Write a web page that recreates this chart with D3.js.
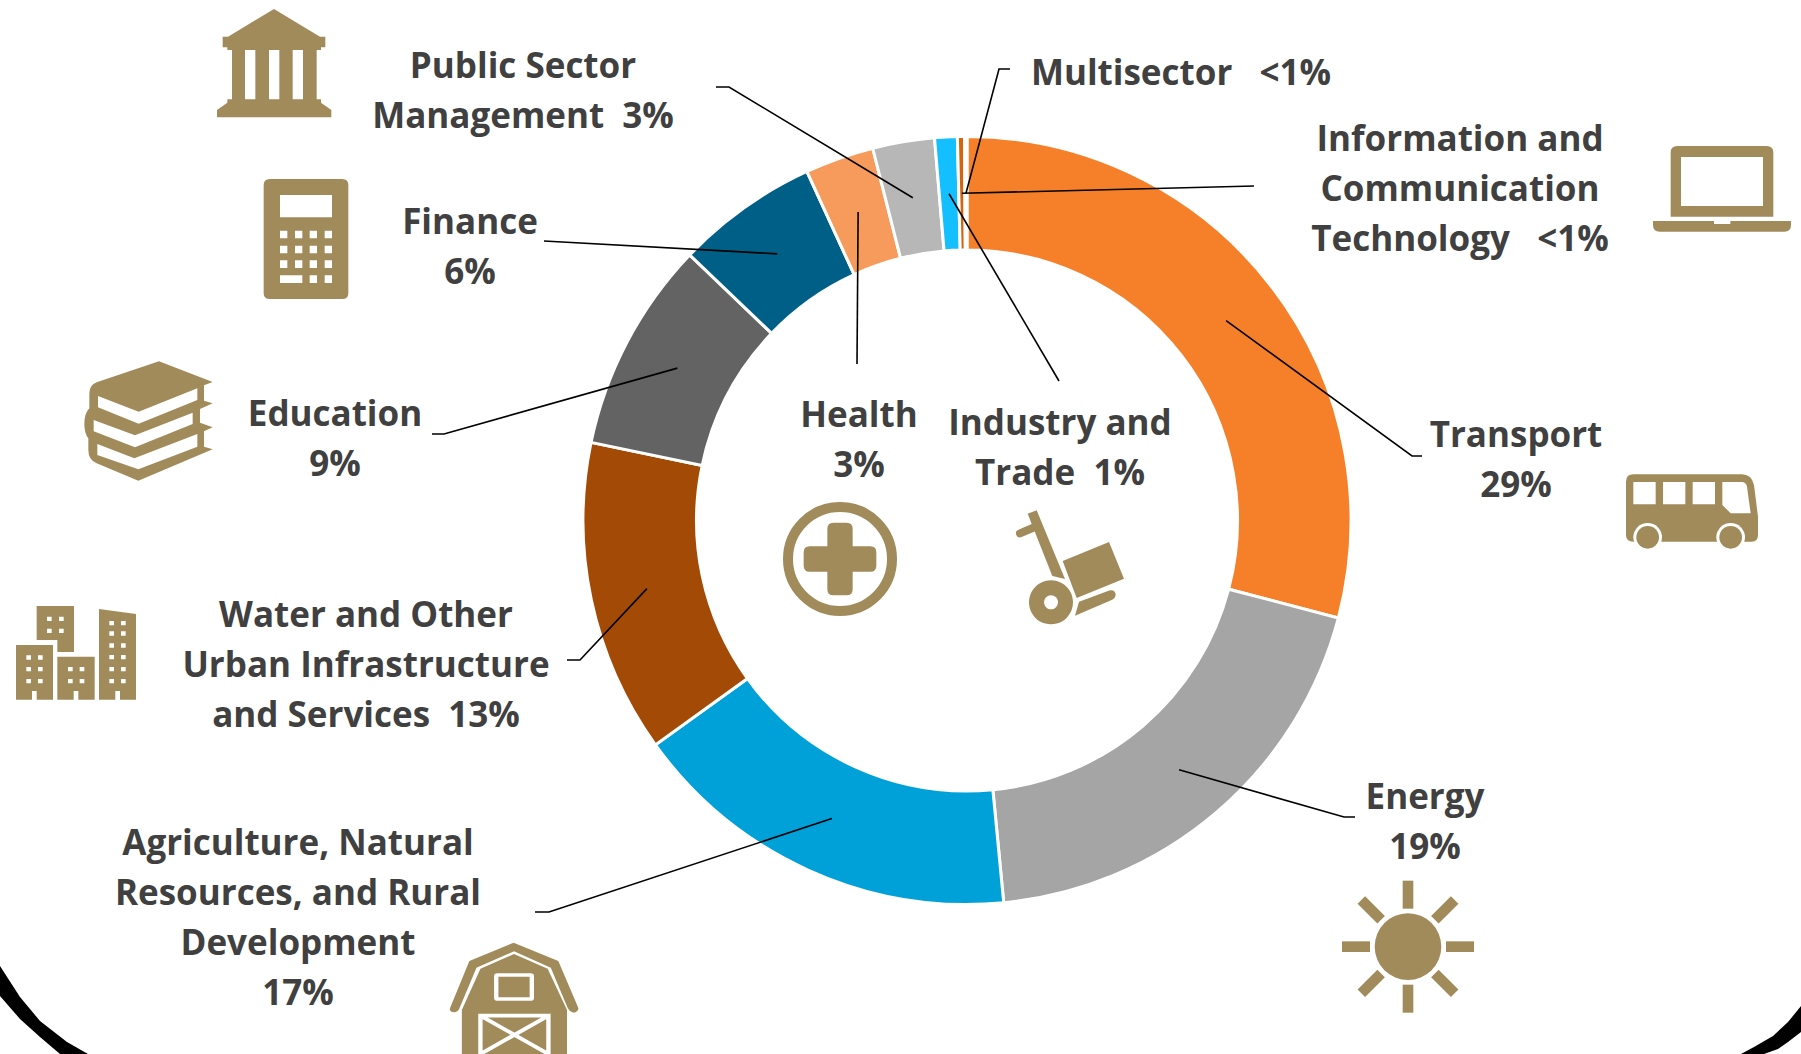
<!DOCTYPE html>
<html>
<head>
<meta charset="utf-8">
<script src="https://cdn.jsdelivr.net/npm/d3@7"></script>
<style>
  html, body { margin: 0; padding: 0; background: #fff; }
  svg { display: block; }
  text { font-family: "Open Sans", "Noto Sans", sans-serif; font-weight: 700; fill: #404040; }
</style>
</head>
<body>
<div id="chart"></div>
<script>
// data
const sectors = ["Transport", "Energy", "Agriculture", "Water", "Education", "Finance", "Health", "Public", "Industry", "ICT", "Multisector"];
const shares = [29.1, 19.4, 16.6, 13.2, 8.9, 6.0, 2.9, 2.6, 0.95, 0.3, 0.1];
const sliceColors = ["#F6802A", "#A5A5A5", "#00A0D8", "#A34A07", "#636363", "#005F86", "#F69B5B", "#B7B7B7", "#14BFFF", "#D4650C", "#F6802A"];
const labelLines = [
  ["Transport", "29%"],
  ["Energy", "19%"],
  ["Agriculture, Natural", "Resources, and Rural", "Development", "17%"],
  ["Water and Other", "Urban Infrastructure", "and Services  13%"],
  ["Education", "9%"],
  ["Finance", "6%"],
  ["Health", "3%"],
  ["Public Sector", "Management  3%"],
  ["Industry and", "Trade  1%"],
  ["Information and", "Communication", "Technology   <1%"],
  ["Multisector   <1%"]
];

// layout, per sector: label centre x, first baseline, leader points after the slice centroid
const labelX = [1516, 1425, 298, 366, 335, 470, 859, 523, 1060, 1460, 1181];
const labelY = [447, 809, 855, 627, 426, 234, 427, 78, 435, 151, 85];
const leaders = [
  [[1412, 456], [1422, 456]],
  [[1344, 817], [1355, 817]],
  [[549, 912], [535, 912]],
  [[580, 660], [567, 660]],
  [[444, 434], [432, 434]],
  [[544, 241]],
  [[857, 364]],
  [[729, 87], [716, 87]],
  [[1059, 381]],
  [[1254, 186]],
  [[999, 69], [1010, 69]]
];
// black frame corners, traced edge points
const cornerLeft = [[0, 966], [20, 997], [40, 1021], [67, 1042], [88, 1054], [60, 1054], [40, 1037], [20, 1019], [0, 996]];
const cornerRight = [[1801, 1006], [1788, 1022], [1773, 1036], [1754, 1047], [1741, 1054], [1764, 1054], [1778, 1049], [1788, 1042], [1801, 1032]];

const width = 1801, height = 1054;
const cx = 967, cy = 520.5, outerR = 384, innerR = 270.5;
const lineGap = 50;
const gold = "#A18B5B";

const svg = d3.select("#chart").append("svg")
  .attr("width", width)
  .attr("height", height)
  .style("background", "#fff");

svg.selectAll(".corner")
  .data([cornerLeft, cornerRight])
  .enter()
  .append("path")
  .attr("class", "corner")
  .attr("fill", "#000")
  .attr("d", d => d3.line()(d) + "Z");

// donut
const pie = d3.pie().sort(null).value(d => d);
const arc = d3.arc().innerRadius(innerR).outerRadius(outerR);
const arcs = pie(shares);
const ring = svg.append("g").attr("transform", `translate(${cx},${cy})`);

ring.selectAll("path")
  .data(arcs)
  .enter()
  .append("path")
  .attr("d", arc)
  .attr("fill", (d, i) => sliceColors[i])
  .attr("stroke", "#fff")
  .attr("stroke-width", 3);

// leader lines start from the slice centroid
const leaderLine = d3.line();
svg.selectAll(".leader")
  .data(arcs)
  .enter()
  .append("path")
  .attr("class", "leader")
  .attr("fill", "none")
  .attr("stroke", "#000")
  .attr("stroke-width", 1.6)
  .attr("d", (d, i) => {
    const c = arc.centroid(d);
    return leaderLine([[cx + c[0], cy + c[1]]].concat(leaders[i]));
  });

// labels
const labels = svg.selectAll(".label")
  .data(sectors)
  .enter()
  .append("text")
  .attr("class", "label")
  .attr("text-anchor", "middle")
  .attr("font-size", 35)
  .attr("xml:space", "preserve");

labels.each(function (d, i) {
  d3.select(this).selectAll("tspan")
    .data(labelLines[i])
    .enter()
    .append("tspan")
    .attr("x", labelX[i])
    .attr("y", (t, j) => labelY[i] + j * lineGap)
    .style("white-space", "pre")
    .text(t => t);
});

function icon(x, y, kx = 1 / 3, ky = 1 / 3) {
  return svg.append("g")
    .attr("transform", `translate(${x},${y}) scale(${kx},${ky})`)
    .attr("fill", gold);
}
function boxes(xs, ys, w, h) {
  let p = "";
  xs.forEach(x => ys.forEach(y => { p += `M${x} ${y}h${w}v${h}h${-w}Z`; }));
  return p;
}

// public sector
icon(60, 0).append("path").attr("fill-rule", "evenodd")
  .attr("d", "M642 27L780 110H796V142H783V150H770V298H783V308L814 330V352H471V330L502 308V298H516V150H502V142H488V110H504Z"
    + boxes([555, 627, 698], [150], 31, 148));

// finance
icon(60, 0).append("path").attr("fill-rule", "evenodd")
  .attr("d", "M629 537H847Q865 537 865 555V879Q865 897 847 897H629Q611 897 611 879V555Q611 537 629 537Z"
    + "M660 585H816V652H660Z"
    + boxes([660, 705, 749, 794], [692, 737, 781], 22, 23)
    + "M660 826H727V849H660Z"
    + boxes([749, 794], [826], 22, 23));

// education
icon(0, 350).append("path").attr("fill-rule", "evenodd")
  .attr("d", "M477 34L638 96L612 106V152L638 160L600 177V218L638 232L612 244V290L638 298L415 392L290 340Q265 330 265 300V265Q253 250 253 222Q253 190 268 175V130Q268 105 290 97Z"
    + "M294 138L416 185L592 115V150L416 221L294 172Z"
    + "M281 210L405 256L578 188V222L405 292L281 244Z"
    + "M292 282L403 325L592 252V290L415 358L292 315Z");

// water and urban
const city = icon(0, 350);
city.append("path").attr("fill-rule", "evenodd")
  .attr("d", "M110 768H222V906H172V870H110Z" + boxes([141, 177], [800, 836], 14, 13));
city.append("path").attr("fill-rule", "evenodd")
  .attr("d", "M48 885H159V1049H110V1023H96V1049H48Z" + boxes([79, 114], [916, 951, 987], 14, 13));
city.append("path").attr("fill-rule", "evenodd")
  .attr("d", "M172 920H284V1049H235V1023H221V1049H172Z" + boxes([204, 239], [951, 987], 14, 13));
city.append("path").attr("fill-rule", "evenodd")
  .attr("d", "M297 777L408 792V1049H360V1023H346V1049H297Z" + boxes([328, 363], [813, 844, 880, 915, 951, 987], 14, 13));

// health
const health = icon(760, 480);
health.append("circle").attr("cx", 240).attr("cy", 237).attr("r", 156)
  .attr("fill", "none").attr("stroke", gold).attr("stroke-width", 30);
health.append("path")
  .attr("d", "M220 128H260Q278 128 278 146V199H331Q349 199 349 217V257Q349 275 331 275H278V328Q278 346 260 346H220Q202 346 202 328V275H149Q131 275 131 257V217Q131 199 149 199H202V146Q202 128 220 128Z");

// industry and trade
const cart = icon(760, 480);
cart.append("path").attr("d", "M803 101L830 91L915 297L877 288Z");
cart.append("path").attr("d", "M780 160L825 141").attr("stroke", gold).attr("stroke-width", 24).attr("stroke-linecap", "round");
cart.append("path").attr("d", "M908 243L1047 186L1092 296L950 354Z");
cart.append("path").attr("fill-rule", "evenodd")
  .attr("d", "M873 301A66 66 0 1 1 872.9 301ZM873 346A21 21 0 1 0 873.1 346Z");
cart.append("path").attr("d", "M957 365L1050 331Q1064 328 1067 343Q1067 355 1055 360L945 407Z");

// agriculture, this crop was read at a different x and y scale
const barn = icon(0, 880, 620 / 1568, 1 / 3);
barn.append("path")
  .attr("d", "M1299 188L1412 243L1463 385Q1462 397 1450 398Q1440 395 1436 385L1393 263L1300 214L1205 263L1162 385Q1158 397 1148 397Q1136 395 1138 385L1187 243Z");
barn.append("path").attr("d", "M1300 222L1385 266L1434 390V530H1168V390L1215 266Z");
barn.append("rect").attr("x", 1255).attr("y", 285).attr("width", 90).attr("height", 72).attr("rx", 3)
  .attr("fill", "none").attr("stroke", "#fff").attr("stroke-width", 11);
barn.append("path").attr("d", "M1215 407H1387V540H1215ZM1215 407L1387 522M1387 407L1215 522")
  .attr("fill", "none").attr("stroke", "#fff").attr("stroke-width", 11);

// energy
const sun = icon(1300, 850);
sun.append("circle").attr("cx", 324).attr("cy", 290).attr("r", 100);
sun.selectAll("rect").data(d3.range(8)).enter().append("rect")
  .attr("x", 308).attr("y", 92).attr("width", 32).attr("height", 84)
  .attr("transform", d => `rotate(${d * 45} 324 290)`);

// ict
const laptop = icon(1620, 130);
laptop.append("path").attr("fill-rule", "evenodd")
  .attr("d", "M172 48H440Q460 48 460 68V260H152V68Q152 48 172 48ZM183 81V228H429V81Z");
laptop.append("path").attr("d", "M99 273H282V282H331V273H513V285Q513 305 493 305H119Q99 305 99 285Z");

// transport
const bus = icon(1620, 130);
bus.append("path").attr("fill-rule", "evenodd")
  .attr("d", "M40 1033H365Q395 1033 402 1065L414 1160V1215Q414 1235 395 1235H40Q18 1235 18 1215V1055Q18 1033 40 1033Z"
    + boxes([40, 129, 218], [1056], 67, 67)
    + "M307 1056H365Q378 1056 381 1070L392 1150H332L307 1125Z");
[83, 332].forEach(x => {
  bus.append("circle").attr("cx", x).attr("cy", 1222).attr("r", 43).attr("fill", "#fff");
  bus.append("circle").attr("cx", x).attr("cy", 1222).attr("r", 34);
});
</script>
</body>
</html>
